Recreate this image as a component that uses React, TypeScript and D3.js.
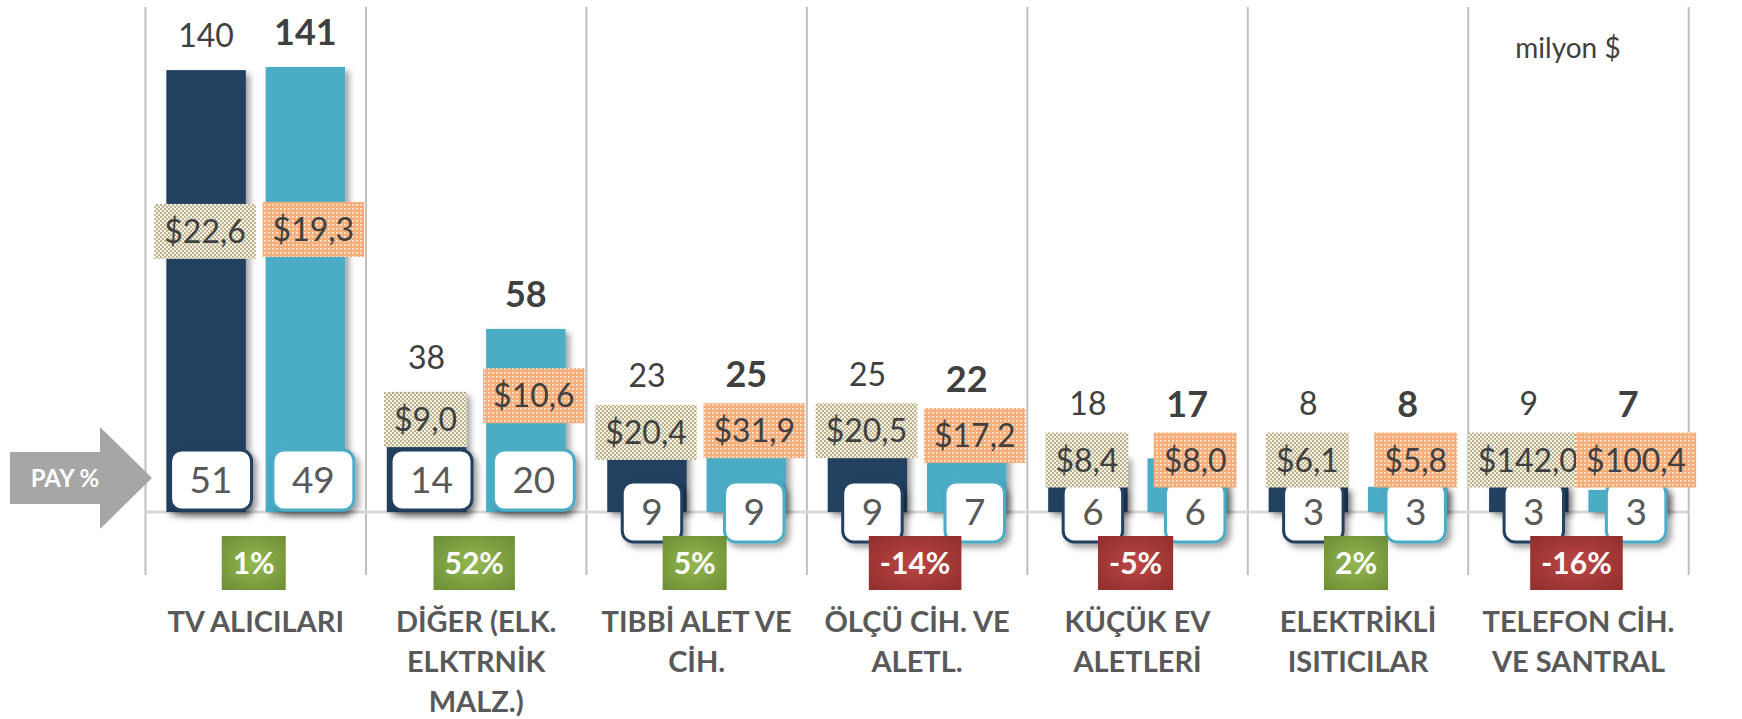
import React, { useEffect, useRef } from "react";
import * as d3 from "d3";

// kategoriler (satır sonları orijinal grafikteki gibi)
const categories = [
  "TV ALICILARI",
  "DİĞER (ELK.\nELKTRNİK\nMALZ.)",
  "TIBBİ ALET VE\nCİH.",
  "ÖLÇÜ CİH. VE\nALETL.",
  "KÜÇÜK EV\nALETLERİ",
  "ELEKTRİKLİ\nISITICILAR",
  "TELEFON CİH.\nVE SANTRAL",
];

// milyon $
const previousValues = [140, 38, 23, 25, 18, 8, 9];
const currentValues = [141, 58, 25, 22, 17, 8, 7];

// birim fiyat etiketleri
const previousPrices = ["$22,6", "$9,0", "$20,4", "$20,5", "$8,4", "$6,1", "$142,0"];
const currentPrices = ["$19,3", "$10,6", "$31,9", "$17,2", "$8,0", "$5,8", "$100,4"];

// pay %
const previousShares = [51, 14, 9, 9, 6, 3, 3];
const currentShares = [49, 20, 9, 7, 6, 3, 3];

// değişim %
const changes = [1, 52, 5, -14, -5, 2, -16];

const W = 1742;
const H = 719;
const FONT = "Lato, 'Open Sans', sans-serif";

interface Series {
  key: string;
  values: number[];
  prices: string[];
  shares: number[];
  color: string;
  bold: boolean;
  pattern: string;
  priceShift: number;
  shareShift: number;
}

const series: Series[] = [
  {
    key: "prev",
    values: previousValues,
    prices: previousPrices,
    shares: previousShares,
    color: "#243f60",
    bold: false,
    pattern: "url(#khaki)",
    priceShift: -1,
    shareShift: 5,
  },
  {
    key: "curr",
    values: currentValues,
    prices: currentPrices,
    shares: currentShares,
    color: "#4bacc6",
    bold: true,
    pattern: "url(#peach)",
    priceShift: 8,
    shareShift: 8,
  },
];

const App: React.FC = () => {
  const svgRef = useRef<SVGSVGElement>(null);

  useEffect(() => {
    const svg = d3.select(svgRef.current);
    svg.selectAll("*").remove();

    const left = 145.5;
    const right = 1688.7;
    const baseline = 512;

    const x0 = d3.scaleBand<string>().domain(categories).range([left, right]);
    const x1 = d3
      .scaleBand<string>()
      .domain(series.map((s) => s.key))
      .range([0, x0.bandwidth()])
      .paddingInner(0.2)
      .paddingOuter(0.21);
    const y = d3.scaleLinear().domain([0, 160]).range([baseline, 7]);

    // defs: gölge, desenler, gradyanlar
    const defs = svg.append("defs");
    const shadow = defs
      .append("filter")
      .attr("id", "shadow")
      .attr("x", "-30%")
      .attr("y", "-30%")
      .attr("width", "170%")
      .attr("height", "170%");
    shadow
      .append("feDropShadow")
      .attr("dx", 4)
      .attr("dy", 4)
      .attr("stdDeviation", 3)
      .attr("flood-color", "#000")
      .attr("flood-opacity", 0.38);

    const khaki = defs
      .append("pattern")
      .attr("id", "khaki")
      .attr("patternUnits", "userSpaceOnUse")
      .attr("width", 4)
      .attr("height", 4);
    khaki.append("rect").attr("width", 4).attr("height", 4).attr("fill", "#f4f1e6");
    khaki.append("rect").attr("width", 2).attr("height", 2).attr("fill", "#bdb48d");
    khaki.append("rect").attr("x", 2).attr("y", 2).attr("width", 2).attr("height", 2).attr("fill", "#bdb48d");

    const peach = defs
      .append("pattern")
      .attr("id", "peach")
      .attr("patternUnits", "userSpaceOnUse")
      .attr("width", 4)
      .attr("height", 4);
    peach.append("rect").attr("width", 4).attr("height", 4).attr("fill", "#f9ad78");
    peach.append("rect").attr("width", 1.6).attr("height", 1.6).attr("fill", "#fff3e8");

    const grad = (id: string, inner: string, outer: string) => {
      const g = defs.append("radialGradient").attr("id", id).attr("r", "75%");
      g.append("stop").attr("offset", "0%").attr("stop-color", inner);
      g.append("stop").attr("offset", "100%").attr("stop-color", outer);
    };
    grad("up", "#93b852", "#6a8a32");
    grad("down", "#bd4644", "#8b2d2b");

    // ızgara
    const gridX = [...categories.map((c) => x0(c)!), right];
    svg
      .append("g")
      .selectAll("line")
      .data(gridX)
      .enter()
      .append("line")
      .attr("x1", (d) => d)
      .attr("x2", (d) => d)
      .attr("y1", 7)
      .attr("y2", 575)
      .attr("stroke", "#bfbfbf")
      .attr("stroke-width", 2);

    svg
      .append("line")
      .attr("x1", left)
      .attr("x2", right)
      .attr("y1", baseline)
      .attr("y2", baseline)
      .attr("stroke", "#d9d9d9")
      .attr("stroke-width", 3);

    const barX = (s: Series, i: number) => x0(categories[i])! + x1(s.key)!;
    const bw = x1.bandwidth();

    // çubuklar
    series.forEach((s) => {
      svg
        .append("g")
        .selectAll("rect")
        .data(s.values)
        .enter()
        .append("rect")
        .attr("x", (_, i) => barX(s, i))
        .attr("y", (d) => y(d))
        .attr("width", bw)
        .attr("height", (d) => baseline - y(d))
        .attr("fill", s.color)
        .attr("filter", "url(#shadow)");
    });

    // pay % kutuları (uzun çubukta taban içinde, kısa çubukta eksen üzerinde)
    series.forEach((s) => {
      const g = svg.append("g");
      s.shares.forEach((p, i) => {
        const h = baseline - y(s.values[i]);
        const bh = 60;
        const cy = h > 100 ? baseline - 2 - bh / 2 : baseline;
        const cx = barX(s, i) + bw / 2 + s.shareShift;
        const t = g
          .append("text")
          .attr("x", cx)
          .attr("y", cy + 13)
          .attr("text-anchor", "middle")
          .attr("font-family", FONT)
          .attr("font-size", 37)
          .attr("fill", "#595959")
          .text(p);
        const tw = (t.node() as SVGTextElement).getComputedTextLength();
        g.insert("rect", () => t.node())
          .attr("x", cx - tw / 2 - 19)
          .attr("y", cy - bh / 2)
          .attr("width", tw + 38)
          .attr("height", bh)
          .attr("rx", 11)
          .attr("fill", "#fff")
          .attr("stroke", s.color)
          .attr("stroke-width", 3)
          .attr("filter", "url(#shadow)");
      });
    });

    // fiyat kutuları
    const priceTop: number[][] = [];
    series.forEach((s, si) => {
      priceTop[si] = [];
      const g = svg.append("g");
      s.values.forEach((v, i) => {
        const h = baseline - y(v);
        const lift = h < 60 ? 52 : Math.min(h + 7, Math.max(0.635 * h, 60 + 0.27 * h));
        const cy = baseline - lift;
        const cx = barX(s, i) + bw / 2 + s.priceShift;
        const t = g
          .append("text")
          .attr("x", cx)
          .attr("y", cy + 11.5)
          .attr("text-anchor", "middle")
          .attr("font-family", FONT)
          .attr("font-size", 32)
          .attr("fill", "#404040")
          .text(s.prices[i]);
        const tw = (t.node() as SVGTextElement).getComputedTextLength();
        const bh = 55;
        g.insert("rect", () => t.node())
          .attr("x", cx - tw / 2 - 10)
          .attr("y", cy - bh / 2)
          .attr("width", tw + 20)
          .attr("height", bh)
          .attr("fill", s.pattern);
        priceTop[si][i] = cy - bh / 2;
      });
    });

    // değer etiketleri (çubuğun ya da fiyat kutusunun üstünde)
    series.forEach((s, si) => {
      svg
        .append("g")
        .selectAll("text")
        .data(s.values)
        .enter()
        .append("text")
        .attr("x", (_, i) => barX(s, i) + bw / 2)
        .attr("y", (d, i) => {
          const anchor = Math.min(y(d), priceTop[si][i]);
          const gap = y(d) < priceTop[si][i] ? 35 : 29;
          return anchor - gap + (s.bold ? 13 : 11.5);
        })
        .attr("text-anchor", "middle")
        .attr("font-family", FONT)
        .attr("font-size", s.bold ? 36 : 32)
        .attr("font-weight", s.bold ? 700 : 400)
        .attr("fill", "#404040")
        .text((d) => d);
    });

    // değişim kutuları
    const cg = svg.append("g");
    changes.forEach((c, i) => {
      const cx = x0(categories[i])! + x0.bandwidth() / 2 - 2;
      const cy = 563;
      const t = cg
        .append("text")
        .attr("x", cx)
        .attr("y", cy + 10.5)
        .attr("text-anchor", "middle")
        .attr("font-family", FONT)
        .attr("font-size", 30)
        .attr("font-weight", 700)
        .attr("fill", "#fff")
        .text(`${c}%`);
      const tw = (t.node() as SVGTextElement).getComputedTextLength();
      cg.insert("rect", () => t.node())
        .attr("x", cx - tw / 2 - 11)
        .attr("y", cy - 27)
        .attr("width", tw + 22)
        .attr("height", 54)
        .attr("fill", c >= 0 ? "url(#up)" : "url(#down)");
    });

    // kategori etiketleri
    svg
      .append("g")
      .selectAll("text")
      .data(categories)
      .enter()
      .append("text")
      .attr("text-anchor", "middle")
      .attr("font-family", FONT)
      .attr("font-size", 29)
      .attr("font-weight", 700)
      .attr("fill", "#595959")
      .each(function (d) {
        const cx = x0(d)! + x0.bandwidth() / 2;
        d3.select(this)
          .selectAll("tspan")
          .data(d.split("\n"))
          .enter()
          .append("tspan")
          .attr("x", cx)
          .attr("y", (_, j) => 632 + j * 40)
          .text((l) => l);
      });

    // PAY % oku
    svg
      .append("path")
      .attr("d", "M10,452 L100,452 L100,427 L152,478 L100,529 L100,504 L10,504 Z")
      .attr("fill", "#a6a6a6");
    svg
      .append("text")
      .attr("x", 65)
      .attr("y", 487)
      .attr("text-anchor", "middle")
      .attr("font-family", FONT)
      .attr("font-size", 24)
      .attr("font-weight", 700)
      .attr("fill", "#fff")
      .text("PAY %");

    svg
      .append("text")
      .attr("x", 1568)
      .attr("y", 58)
      .attr("text-anchor", "middle")
      .attr("font-family", FONT)
      .attr("font-size", 28)
      .attr("fill", "#404040")
      .text("milyon $");
  }, []);

  return (
    <svg
      ref={svgRef}
      width={W}
      height={H}
      style={{ position: "absolute", left: 0, top: 0, background: "#fff" }}
    />
  );
};

export default App;
